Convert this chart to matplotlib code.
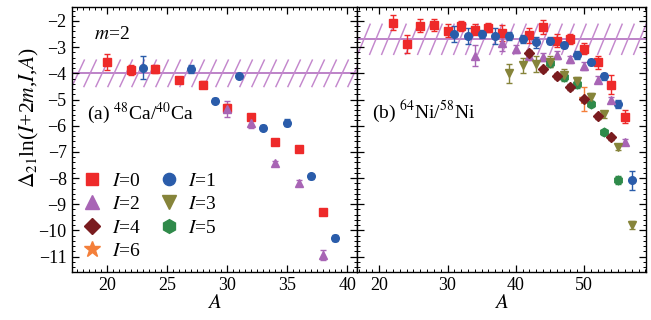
import numpy as np
import matplotlib
matplotlib.use("Agg")
import matplotlib.pyplot as plt
import matplotlib.transforms as mtransforms
from matplotlib.ticker import MultipleLocator

plt.rcParams['font.family'] = ['Liberation Serif', 'DejaVu Serif']
plt.rcParams['mathtext.fontset'] = 'stix'

# ---------------- data: 48Ca/40Ca ----------------
A_ca_I0 = [20, 22, 24, 26, 28, 30, 32, 34, 36, 38]
ca_I0 = [-3.58, -3.87, -3.83, -4.25, -4.43, -5.31, -5.65, -6.64, -6.89, -9.29]
ca_I0_err = [0.30, 0.20, 0.15, 0.10, 0.12, 0.12, 0.08, 0.08, 0.08, 0.08]

A_ca_I1 = [23, 27, 29, 31, 33, 35, 37, 39]
ca_I1 = [-3.78, -3.83, -5.04, -4.09, -6.07, -5.88, -7.94, -10.29]
ca_I1_err = [0.45, 0.15, 0.10, 0.08, 0.08, 0.12, 0.08, 0.10]

A_ca_I2 = [30, 32, 34, 36, 38]
ca_I2 = [-5.35, -5.90, -7.43, -8.20, -10.94]
ca_I2_err = [0.30, 0.20, 0.10, 0.12, 0.20]

ca_band_center = -4.0
ca_band_half = 0.53

# ---------------- data: 64Ni/58Ni ----------------
A_ni_I0 = [22, 24, 26, 28, 30, 32, 34, 36, 38, 42, 44, 46, 48, 50, 52, 54, 56]
ni_I0 = [-2.06, -2.89, -2.19, -2.15, -2.37, -2.19, -2.33, -2.25, -2.47, -2.55,
         -2.23, -2.76, -2.68, -3.06, -3.57, -4.43, -5.65]
ni_I0_err = [0.30, 0.35, 0.25, 0.22, 0.25, 0.20, 0.20, 0.18, 0.30, 0.30,
             0.25, 0.25, 0.20, 0.20, 0.25, 0.35, 0.25]

A_ni_I1 = [31, 33, 35, 37, 39, 41, 43, 45, 47, 49, 51, 53, 55, 57]
ni_I1 = [-2.50, -2.57, -2.50, -2.58, -2.57, -2.70, -2.82, -2.75, -2.93, -3.30,
         -3.58, -4.12, -5.18, -8.09]
ni_I1_err = [0.30, 0.30, 0.15, 0.30, 0.15, 0.15, 0.20, 0.12, 0.12, 0.15,
             0.12, 0.15, 0.15, 0.35]

A_ni_I2 = [34, 38, 40, 42, 44, 46, 48, 50, 52, 54, 56]
ni_I2 = [-3.32, -2.83, -3.06, -3.33, -3.38, -3.30, -3.47, -3.71, -4.24, -5.02, -6.63]
ni_I2_err = [0.40, 0.30, 0.15, 0.15, 0.15, 0.15, 0.12, 0.15, 0.12, 0.12, 0.12]

A_ni_I3 = [39, 41, 43, 45, 47, 49, 51, 53, 55, 57]
ni_I3 = [-4.00, -3.70, -3.63, -3.55, -4.05, -4.29, -4.90, -5.57, -6.80, -9.79]
ni_I3_err = [0.35, 0.30, 0.30, 0.20, 0.20, 0.15, 0.15, 0.12, 0.12, 0.15]

A_ni_I4 = [42, 44, 46, 48, 50, 52, 54]
ni_I4 = [-3.21, -3.84, -4.10, -4.52, -4.99, -5.64, -6.45]
ni_I4_err = [0.12, 0.10, 0.10, 0.10, 0.10, 0.10, 0.10]

A_ni_I5 = [45, 47, 49, 51, 53, 55]
ni_I5 = [-3.59, -4.15, -4.40, -5.17, -6.25, -8.09]
ni_I5_err = [0.15, 0.15, 0.15, 0.12, 0.10, 0.15]

A_ni_I6 = [50]
ni_I6 = [-4.97]
ni_I6_err = [0.45]

ni_band_center = -2.70
ni_band_half = 0.60

# ---------------- styles ----------------
styles = {
    0: dict(color='#ee2a2a', marker='s', ms=5.3),
    1: dict(color='#2a5caa', marker='o', ms=5.5),
    2: dict(color='#a865b5', marker='^', ms=6.0),
    3: dict(color='#86843a', marker='v', ms=6.0),
    4: dict(color='#7a1c1f', marker='D', ms=5.0),
    5: dict(color='#2f8a4a', marker='h', ms=6.2),
    6: dict(color='#f47f3a', marker='*', ms=7.5),
}
band_color = '#c488cd'
line_color = '#b879c4'

fig = plt.figure(figsize=(6.51, 3.20), dpi=100)
axL = fig.add_axes([0.110, 0.149, 0.438, 0.828])
axR = fig.add_axes([0.549, 0.149, 0.443, 0.828], sharey=axL)


def draw_band(ax, center, half):
    ax.axhline(center, color=line_color, lw=1.3, zorder=1)
    trans = mtransforms.blended_transform_factory(ax.transAxes, ax.transData)
    bbox = ax.get_window_extent()
    px_w = bbox.width
    step = 12.0 / px_w
    off = 13.0 / px_w
    n = int(1.0 / step) + 3
    for k in range(-1, n):
        x0 = k * step
        ax.plot([x0, x0 + off], [center - half, center + half], transform=trans,
                color=band_color, lw=1.05, zorder=1, clip_on=True,
                solid_capstyle='butt')


def draw_series(ax, A, v, e, I):
    st = styles[I]
    ax.errorbar(A, v, yerr=e, fmt=st['marker'], color=st['color'], ms=st['ms'],
                mec=st['color'], mfc=st['color'], ecolor=st['color'],
                elinewidth=1.0, capsize=2.5, capthick=1.0, zorder=3)


for ax in (axL, axR):
    ax.set_ylim(-11.6, -1.48)
    ax.tick_params(which='both', direction='in', top=True, right=True,
                   labelsize=13)
    ax.tick_params(which='major', length=5, width=0.9)
    ax.tick_params(which='minor', length=2.5, width=0.7)
    ax.yaxis.set_major_locator(MultipleLocator(1))
    ax.yaxis.set_minor_locator(MultipleLocator(0.2))
    for s in ax.spines.values():
        s.set_linewidth(1.0)

axL.set_xlim(17.05, 40.8)
axL.xaxis.set_major_locator(MultipleLocator(5))
axL.xaxis.set_minor_locator(MultipleLocator(0.5))
axR.set_xlim(16.8, 59.05)
axR.xaxis.set_major_locator(MultipleLocator(10))
axR.xaxis.set_minor_locator(MultipleLocator(1))
axR.tick_params(labelleft=False)

draw_band(axL, ca_band_center, ca_band_half)
draw_band(axR, ni_band_center, ni_band_half)

draw_series(axL, A_ca_I0, ca_I0, ca_I0_err, 0)
draw_series(axL, A_ca_I1, ca_I1, ca_I1_err, 1)
draw_series(axL, A_ca_I2, ca_I2, ca_I2_err, 2)

draw_series(axR, A_ni_I6, ni_I6, ni_I6_err, 6)
draw_series(axR, A_ni_I0, ni_I0, ni_I0_err, 0)
draw_series(axR, A_ni_I1, ni_I1, ni_I1_err, 1)
draw_series(axR, A_ni_I2, ni_I2, ni_I2_err, 2)
draw_series(axR, A_ni_I5, ni_I5, ni_I5_err, 5)
draw_series(axR, A_ni_I3, ni_I3, ni_I3_err, 3)
draw_series(axR, A_ni_I4, ni_I4, ni_I4_err, 4)

# legend
order = [0, 2, 4, 6, 1, 3, 5]
handles = [plt.Line2D([], [], ls='none', marker=styles[i]['marker'],
                      color=styles[i]['color'], ms=styles[i]['ms'] * 1.6)
           for i in order]
labels = [r'$I$=%d' % i for i in order]
axL.legend(handles, labels, ncol=2, loc='lower left',
           bbox_to_anchor=(-0.01, -0.005), frameon=False, fontsize=14,
           handlelength=1.0, handletextpad=0.5, columnspacing=0.95,
           labelspacing=0.30, borderaxespad=0.3)

axL.text(0.08, 0.88, r'$m$=2', transform=axL.transAxes, fontsize=14)
axL.text(0.055, 0.58, r'(a) $^{48}$Ca/$^{40}$Ca', transform=axL.transAxes,
         fontsize=14)
axR.text(0.05, 0.583, r'(b) $^{64}$Ni/$^{58}$Ni', transform=axR.transAxes,
         fontsize=14)

axL.set_xlabel(r'$A$', fontsize=15, labelpad=0)
axR.set_xlabel(r'$A$', fontsize=15, labelpad=0)
axL.set_ylabel(r'$\mathit{\Delta}_{21}$ln($I$+2$m$,$I$,$A$)', fontsize=15.5)
axL.yaxis.set_label_coords(-0.108, 0.585)

fig.savefig('out.png', dpi=100)
